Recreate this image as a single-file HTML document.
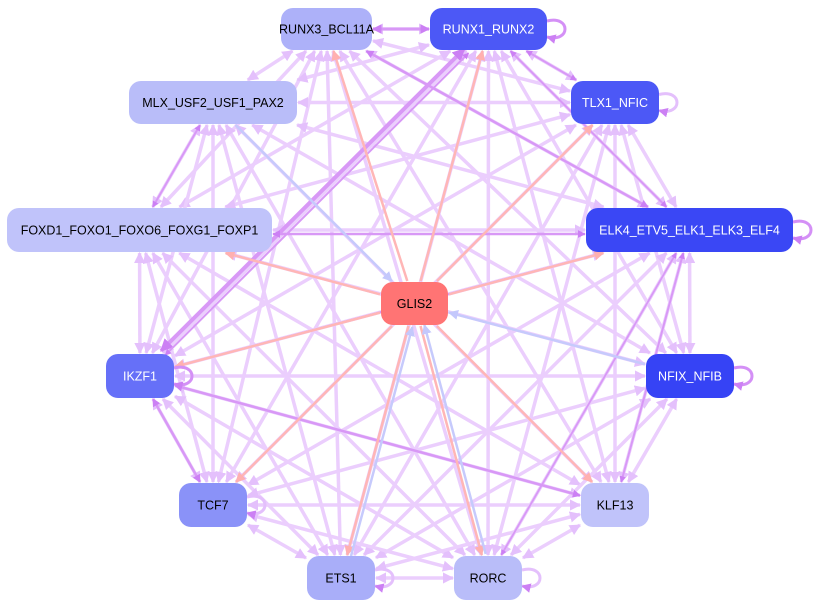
<!DOCTYPE html>
<html><head><meta charset="utf-8"><style>
html,body{margin:0;padding:0;background:#fff;}
svg{display:block;font-family:"Liberation Sans",Arial,sans-serif;}
</style></head><body>
<svg id="s" width="824" height="608" viewBox="0 0 824 608" xmlns="http://www.w3.org/2000/svg">
<defs>
<marker id="mp" viewBox="0 0 10 10" refX="9" refY="5" markerWidth="3.2" markerHeight="3.2" orient="auto-start-reverse"><path d="M0,0L10,5L0,10z" fill="#e4c0fc"/></marker>
<marker id="md" viewBox="0 0 10 10" refX="9" refY="5" markerWidth="3.2" markerHeight="3.2" orient="auto-start-reverse"><path d="M0,0L10,5L0,10z" fill="#cc80f4"/></marker>
<marker id="mr" viewBox="0 0 10 10" refX="9" refY="5" markerWidth="4" markerHeight="4" orient="auto"><path d="M0,0L10,5L0,10z" fill="#ffb0b0"/></marker>
<marker id="mb" viewBox="0 0 10 10" refX="9" refY="5" markerWidth="4" markerHeight="4" orient="auto"><path d="M0,0L10,5L0,10z" fill="#c4c8fc"/></marker>
</defs>
<g id="edges"></g>
<g id="nodes"></g>
</svg>
<script>
var N={
R3:[281,8,91,42,"#adb1f9","RUNX3_BCL11A","#000"],
R1:[430,8,117,42,"#4c58f6","RUNX1_RUNX2","#fff"],
TLX:[571,81,88,43,"#4c58f6","TLX1_NFIC","#fff"],
MLX:[129,81,168,43,"#b9bdf9","MLX_USF2_USF1_PAX2","#000"],
FOX:[7,208,265,44,"#c0c3fa","FOXD1_FOXO1_FOXO6_FOXG1_FOXP1","#000"],
ELK:[586,208,207,44,"#3a47f5","ELK4_ETV5_ELK1_ELK3_ELF4","#fff"],
GL:[381,282,67,43,"#ff7474","GLIS2","#000"],
IK:[106,354,68,44,"#6670f8","IKZF1","#fff"],
NF:[646,354,88,44,"#3643f5","NFIX_NFIB","#fff"],
TC:[179,483,68,44,"#8a92f8","TCF7","#000"],
KL:[581,483,68,44,"#c0c3fa","KLF13","#000"],
ET:[307,556,68,44,"#a9aef9","ETS1","#000"],
RO:[454,556,68,44,"#b9bdf9","RORC","#000"]};
var ns="http://www.w3.org/2000/svg";
function c(k){var n=N[k];return [n[0]+n[2]/2,n[1]+n[3]/2];}
function bp(k,dx,dy){var n=N[k],p=c(k),hw=n[2]/2+1,hh=n[3]/2+1;var t=Math.min(dx?hw/Math.abs(dx):1e9,dy?hh/Math.abs(dy):1e9);return [p[0]+dx*t,p[1]+dy*t];}
var E=document.getElementById("edges");
function line(a,b,col,w,m1,m2,off){var pa=c(a),pb=c(b);var dx=pb[0]-pa[0],dy=pb[1]-pa[1];var L=Math.hypot(dx,dy);var ox=-dy/L*(off||0),oy=dx/L*(off||0);
var s=bp(a,dx,dy),e=bp(b,-dx,-dy);var l=document.createElementNS(ns,"line");
l.setAttribute("x1",s[0]+ox);l.setAttribute("y1",s[1]+oy);l.setAttribute("x2",e[0]+ox);l.setAttribute("y2",e[1]+oy);
l.setAttribute("stroke",col);l.setAttribute("stroke-width",w);
if(m1)l.setAttribute("marker-start","url(#"+m1+")");if(m2)l.setAttribute("marker-end","url(#"+m2+")");E.appendChild(l);}
var keys=Object.keys(N).filter(function(k){return k!="GL";});
for(var i=0;i<keys.length;i++)for(var j=i+1;j<keys.length;j++){line(keys[i],keys[j],"#ebcefd",3.5,"mp","mp",0);}
var dark=[["IK","R1",4,-3],["IK","R1",2,3],["IK","KL",2.5,0],["FOX","ELK",2.5,4],["R3","ELK",2.5,0],["R1","ELK",2,0],["IK","ELK",1.8,0],["R1","TLX",2,0],["KL","ELK",2,0],["RO","ELK",1.8,0],["MLX","FOX",2,0],["IK","TC",2.5,0],["R3","R1",3,0]];
dark.forEach(function(d){line(d[0],d[1],"#d898f6",d[2],"md","md",d[3]);});
["R3","R1","TLX","ELK","FOX","IK","TC","ET","RO","KL"].forEach(function(k){line("GL",k,"#ffb6b6",2.5,null,"mr",0);});
["NF","ET","RO","MLX"].forEach(function(k){line(k,"GL","#c6cafc",2.5,null,"mb",k=="ET"||k=="RO"?4:0);});
[["R1",1],["TLX",1],["ELK",1],["IK",1],["NF",1],["TC",1],["ET",1],["RO",1]].forEach(function(d){var n=N[d[0]];var x=d[1]>0?n[0]+n[2]:n[0],y=n[1]+n[3]/2;var s=d[1]*24;
var p=document.createElementNS(ns,"path");p.setAttribute("d","M"+x+","+(y-8)+" C"+(x+s)+","+(y-14)+" "+(x+s)+","+(y+14)+" "+x+","+(y+8));p.setAttribute("fill","none");p.setAttribute("stroke",d[0]=="R1"||d[0]=="IK"||d[0]=="NF"||d[0]=="ELK"?"#d490f6":"#e4c0fc");p.setAttribute("stroke-width",3);p.setAttribute("marker-end","url(#md)");E.appendChild(p);});
var G=document.getElementById("nodes");
for(var k in N){var n=N[k];var r=document.createElementNS(ns,"rect");r.setAttribute("x",n[0]);r.setAttribute("y",n[1]);r.setAttribute("width",n[2]);r.setAttribute("height",n[3]);r.setAttribute("rx",12);r.setAttribute("fill",n[4]);G.appendChild(r);
var t=document.createElementNS(ns,"text");t.setAttribute("x",n[0]+n[2]/2);t.setAttribute("y",n[1]+n[3]/2+4.5);t.setAttribute("text-anchor","middle");t.setAttribute("font-size","12.5");t.setAttribute("fill",n[6]);t.textContent=n[5];G.appendChild(t);}
</script>
</body></html>
